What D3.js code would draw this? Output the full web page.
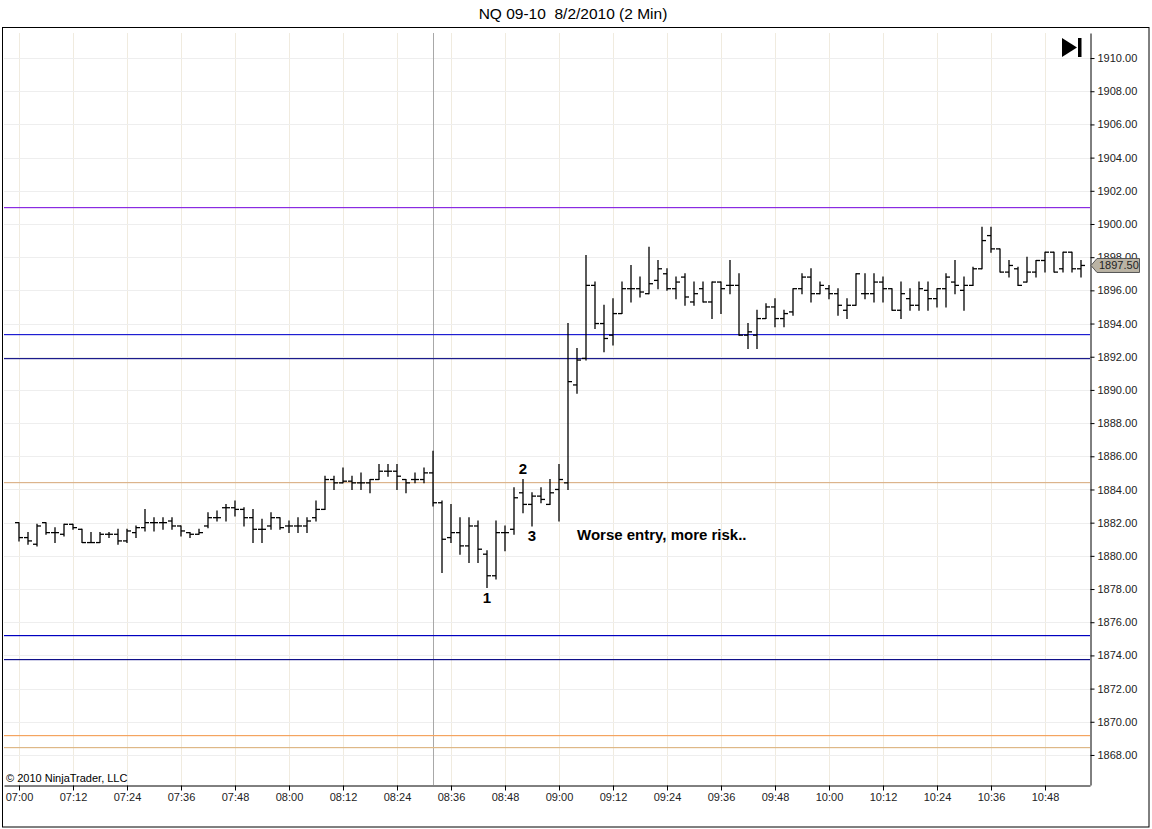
<!DOCTYPE html>
<html>
<head>
<meta charset="utf-8">
<script src="https://cdn.jsdelivr.net/npm/d3@7"></script>
<style>
    body { margin: 0; background: #fff; }
    svg { display: block; font-family: Arial, "Liberation Sans", sans-serif; }
</style>
</head>
<body>
<div id="chart"></div>
<script>
// NQ 09-10 2 minute bars, 07:00 to 10:56
const barStart = new Date(2010, 7, 2, 7, 0);
const barMinutes = 2;

const opens = [
    1882.0,1881.1,1880.7,1882.0,1881.4,1881.3,1881.9,1881.6,1880.8,1880.8,
    1881.3,1881.3,1880.9,1881.4,1881.7,1882.0,1882.0,1882.1,1881.8,1881.4,
    1881.3,1881.8,1882.3,1882.9,1882.9,1882.8,1882.3,1881.6,1881.8,1882.3,
    1881.8,1881.8,1881.8,1882.3,1882.8,1884.6,1884.4,1884.5,1884.4,1884.4,
    1884.6,1885.1,1885.1,1884.6,1884.6,1884.6,1885.0,1883.2,1881.1,1881.4,
    1880.6,1881.8,1880.1,1878.8,1881.4,1881.6,1883.8,1883.1,1883.6,1883.1,
    1884.0,1884.4,1890.3,1891.9,1896.3,1894.0,1893.3,1894.6,1896.1,1896.1,
    1895.8,1896.6,1897.0,1896.1,1896.8,1895.3,1896.1,1895.3,1896.5,1896.3,
    1896.3,1893.3,1893.3,1894.3,1895.0,1894.3,1894.7,1896.1,1896.8,1895.8,
    1896.1,1895.8,1894.8,1895.1,1895.8,1895.8,1896.5,1896.1,1894.8,1895.5,
    1895.1,1896.0,1895.5,1896.1,1896.5,1896.0,1896.3,1897.3,1899.3,1898.5,
    1897.1,1897.3,1896.5,1897.1,1897.8,1898.3,1897.3,1898.3,1897.3
];
const highs = [
    1882.0,1881.4,1881.9,1882.0,1881.7,1881.9,1881.9,1881.6,1881.4,1881.4,
    1881.4,1881.6,1881.6,1881.8,1882.8,1882.3,1882.3,1882.3,1881.8,1881.4,
    1881.6,1882.6,1882.7,1883.1,1883.3,1882.9,1882.8,1882.2,1882.6,1882.3,
    1882.1,1882.3,1882.3,1883.3,1884.8,1884.8,1885.3,1884.8,1885.0,1884.6,
    1885.5,1885.5,1885.5,1884.6,1885.0,1885.3,1886.3,1883.3,1883.1,1882.3,
    1882.3,1882.1,1880.3,1882.1,1881.8,1884.1,1884.6,1883.8,1884.1,1884.6,
    1885.5,1894.0,1892.5,1898.1,1896.5,1895.1,1895.5,1896.5,1897.5,1896.8,
    1898.6,1897.8,1897.3,1896.8,1897.0,1896.5,1896.5,1896.5,1896.5,1897.8,
    1897.0,1894.0,1894.8,1895.2,1895.5,1894.8,1896.1,1897.0,1897.3,1896.5,
    1896.3,1896.1,1895.5,1897.0,1897.0,1897.0,1896.8,1896.1,1896.5,1896.1,
    1896.5,1896.5,1896.1,1897.0,1897.8,1896.8,1897.4,1899.8,1899.8,1898.5,
    1897.8,1897.4,1898.0,1897.8,1898.3,1898.3,1898.3,1898.3,1897.8
];
const lows = [
    1880.9,1880.7,1880.6,1881.3,1880.8,1881.2,1881.6,1880.8,1880.8,1880.8,
    1881.1,1880.7,1880.8,1881.1,1881.5,1881.5,1881.6,1881.6,1881.2,1881.1,
    1881.3,1881.7,1882.1,1882.1,1882.4,1881.8,1880.8,1880.8,1881.6,1881.6,
    1881.4,1881.4,1881.4,1882.1,1882.8,1884.0,1884.4,1884.0,1884.0,1883.8,
    1884.6,1884.8,1884.0,1883.8,1884.4,1884.4,1883.0,1879.0,1880.8,1880.1,
    1879.6,1879.6,1878.1,1878.6,1880.3,1881.3,1882.6,1881.8,1883.2,1883.1,
    1882.1,1884.0,1889.8,1891.8,1893.7,1892.3,1892.7,1894.6,1895.3,1895.6,
    1895.8,1896.1,1896.0,1895.5,1895.1,1895.1,1895.3,1894.3,1894.6,1895.8,
    1893.3,1892.5,1892.5,1894.3,1893.8,1893.8,1894.5,1895.8,1895.3,1895.8,
    1895.5,1894.5,1894.3,1895.1,1895.5,1895.3,1895.3,1894.8,1894.3,1894.8,
    1894.8,1894.8,1895.0,1895.0,1895.8,1894.8,1896.3,1897.3,1898.3,1897.1,
    1896.8,1896.3,1896.5,1896.8,1897.1,1897.1,1897.1,1897.1,1896.8
];
const closes = [
    1881.1,1880.9,1881.8,1881.4,1881.4,1881.9,1881.7,1880.8,1880.8,1881.3,
    1881.3,1880.9,1881.5,1881.7,1882.0,1882.0,1882.0,1881.8,1881.5,1881.3,
    1881.4,1882.3,1882.3,1882.9,1882.8,1882.3,1881.6,1881.6,1882.3,1881.7,
    1881.8,1881.8,1882.1,1882.8,1884.6,1884.4,1884.5,1884.4,1884.4,1884.6,
    1885.1,1885.1,1884.8,1884.4,1884.6,1885.0,1883.2,1881.0,1881.4,1880.6,
    1881.8,1880.4,1878.8,1881.4,1881.4,1883.5,1883.1,1883.6,1883.4,1883.8,
    1884.6,1890.5,1891.8,1896.3,1894.0,1893.1,1894.6,1896.1,1896.1,1895.9,
    1896.4,1897.3,1896.1,1896.5,1895.6,1895.8,1895.3,1896.5,1896.1,1896.3,
    1893.3,1893.5,1894.3,1895.0,1894.3,1894.6,1896.1,1896.8,1895.8,1896.3,
    1895.8,1895.1,1895.1,1897.0,1895.8,1896.5,1896.1,1894.8,1895.8,1895.1,
    1896.1,1895.5,1896.1,1896.8,1896.3,1896.3,1897.3,1899.0,1898.5,1897.1,
    1897.5,1896.3,1897.1,1897.8,1898.3,1897.1,1898.3,1897.3,1897.5
];

// Horizontal price levels drawn on the chart
const levelPrices = [1901.0, 1893.4, 1891.9, 1884.45, 1875.2, 1873.8, 1869.2, 1868.5];
const levelColors = ['#8a2be2', '#1e1ed2', '#1c1c8c', '#dcb48c', '#0000c0', '#10108a', '#f4a460', '#deb887'];

// Price axis ticks
const priceTicks = [1868, 1870, 1872, 1874, 1876, 1878, 1880, 1882, 1884, 1886, 1888,
    1890, 1892, 1894, 1896, 1898, 1900, 1902, 1904, 1906, 1908, 1910];

// Text notes on the chart
const noteTexts = ['1', '2', '3', 'Worse entry, more risk..'];
const noteTimes = ['08:44', '08:52', '08:54', '09:04'];
const notePrices = [1877.15, 1884.95, 1880.9, 1880.95];

const sessionLineTime = '08:32';
const lastPrice = 1897.50;

const width = 1152;
const height = 829;

const parseTime = d3.timeParse('%Y-%m-%d %H:%M');
const at = t => parseTime('2010-08-02 ' + t);

const bars = opens.map((o, i) => ({
    time: d3.timeMinute.offset(barStart, i * barMinutes),
    open: o, high: highs[i], low: lows[i], close: closes[i]
}));

const svg = d3.select('#chart').append('svg')
    .attr('width', width)
    .attr('height', height);

svg.append('rect').attr('width', width).attr('height', height).attr('fill', '#fff');

// Scales
const x = d3.scaleTime()
    .domain([d3.timeSecond.offset(barStart, -200), at('10:58')])
    .range([4, 1090]);

const y = d3.scaleLinear()
    .domain([1866.19, 1911.51])
    .range([785, 33]);

const px = v => Math.round(v) + 0.5;

// Title
svg.append('text')
    .attr('x', 573).attr('y', 19)
    .attr('text-anchor', 'middle')
    .attr('font-size', '15.5px')
    .attr('fill', '#000')
    .attr('xml:space', 'preserve')
    .text('NQ 09-10  8/2/2010 (2 Min)');

// Outer frame
svg.append('rect')
    .attr('x', 2.5).attr('y', 27.5)
    .attr('width', 1146.5).attr('height', 799.5)
    .attr('fill', 'none')
    .attr('stroke', '#000');

// Grid
const xTicks = x.ticks(d3.timeMinute.every(12));
svg.append('g')
    .attr('shape-rendering', 'crispEdges')
    .selectAll('line')
    .data(xTicks)
    .join('line')
    .attr('x1', d => px(x(d))).attr('x2', d => px(x(d)))
    .attr('y1', 33).attr('y2', 785)
    .attr('stroke', '#f0ebdf');

svg.append('g')
    .attr('shape-rendering', 'crispEdges')
    .selectAll('line')
    .data(priceTicks)
    .join('line')
    .attr('x1', 4).attr('x2', 1090)
    .attr('y1', d => px(y(d))).attr('y2', d => px(y(d)))
    .attr('stroke', '#eeeeee');

// Session break
svg.append('line')
    .attr('shape-rendering', 'crispEdges')
    .attr('x1', px(x(at(sessionLineTime))))
    .attr('x2', px(x(at(sessionLineTime))))
    .attr('y1', 33).attr('y2', 785)
    .attr('stroke', '#a8a8a8');

// Levels
svg.append('g')
    .selectAll('rect')
    .data(levelPrices)
    .join('rect')
    .attr('x', 4).attr('width', 1086)
    .attr('y', d => Math.round(y(d))).attr('height', 1.2)
    .attr('fill', (d, i) => levelColors[i]);

// OHLC bars
const tick = 4;
const barG = svg.append('g')
    .attr('stroke', '#000')
    .attr('stroke-width', 1.3);

barG.selectAll('line.hl')
    .data(bars)
    .join('line')
    .attr('class', 'hl')
    .attr('x1', d => x(d.time)).attr('x2', d => x(d.time))
    .attr('y1', d => y(d.high) - 0.5).attr('y2', d => y(d.low) + 0.5);

barG.selectAll('line.op')
    .data(bars)
    .join('line')
    .attr('class', 'op')
    .attr('x1', d => x(d.time) - tick).attr('x2', d => x(d.time))
    .attr('y1', d => y(d.open)).attr('y2', d => y(d.open));

barG.selectAll('line.cl')
    .data(bars)
    .join('line')
    .attr('class', 'cl')
    .attr('x1', d => x(d.time)).attr('x2', d => x(d.time) + tick)
    .attr('y1', d => y(d.close)).attr('y2', d => y(d.close));

// Axes
const yAxis = svg.append('g')
    .attr('transform', 'translate(1090.5,0)')
    .call(d3.axisRight(y)
        .tickValues(priceTicks)
        .tickSize(4)
        .tickSizeOuter(0)
        .tickPadding(3)
        .tickFormat(d3.format('.2f')));
yAxis.select('.domain').attr('stroke', '#000');
yAxis.selectAll('text').attr('font-size', '11px').attr('fill', '#222')
    .attr('font-family', 'Arial, "Liberation Sans", sans-serif');

const xAxis = svg.append('g')
    .attr('transform', 'translate(0,785.5)')
    .call(d3.axisBottom(x)
        .ticks(d3.timeMinute.every(12))
        .tickSize(5)
        .tickSizeOuter(0)
        .tickPadding(3)
        .tickFormat(d3.timeFormat('%H:%M')));
xAxis.selectAll('text').attr('font-size', '11px').attr('fill', '#222')
    .attr('font-family', 'Arial, "Liberation Sans", sans-serif');

// Last price marker
const ly = y(lastPrice);
svg.append('path')
    .attr('d', 'M1091,' + ly + ' L1097,' + (ly - 7) + ' L1139.5,' + (ly - 7) + ' L1139.5,' + (ly + 7) + ' L1097,' + (ly + 7) + ' Z')
    .attr('fill', '#bab3a4')
    .attr('stroke', '#555')
    .attr('stroke-width', 1);
svg.append('text')
    .attr('x', 1099).attr('y', ly + 4)
    .attr('font-size', '11px')
    .attr('fill', '#222')
    .text(d3.format('.2f')(lastPrice));

// Scroll-to-end icon
svg.append('path')
    .attr('d', 'M1062,38 L1062,57 L1077,47.5 Z')
    .attr('fill', '#000');
svg.append('rect')
    .attr('x', 1078).attr('y', 38)
    .attr('width', 3.5).attr('height', 19)
    .attr('fill', '#000');

// Notes
svg.append('g').selectAll('text')
    .data(noteTexts)
    .join('text')
    .attr('x', (d, i) => x(at(noteTimes[i])))
    .attr('y', (d, i) => y(notePrices[i]))
    .attr('text-anchor', (d, i) => d.length > 1 ? 'start' : 'middle')
    .attr('font-size', '15px')
    .attr('font-weight', 'bold')
    .attr('fill', '#000')
    .text(d => d);

// Copyright
svg.append('text')
    .attr('x', 6).attr('y', 782)
    .attr('font-size', '11px')
    .attr('fill', '#000')
    .text('\u00a9 2010 NinjaTrader, LLC');
</script>
</body>
</html>
